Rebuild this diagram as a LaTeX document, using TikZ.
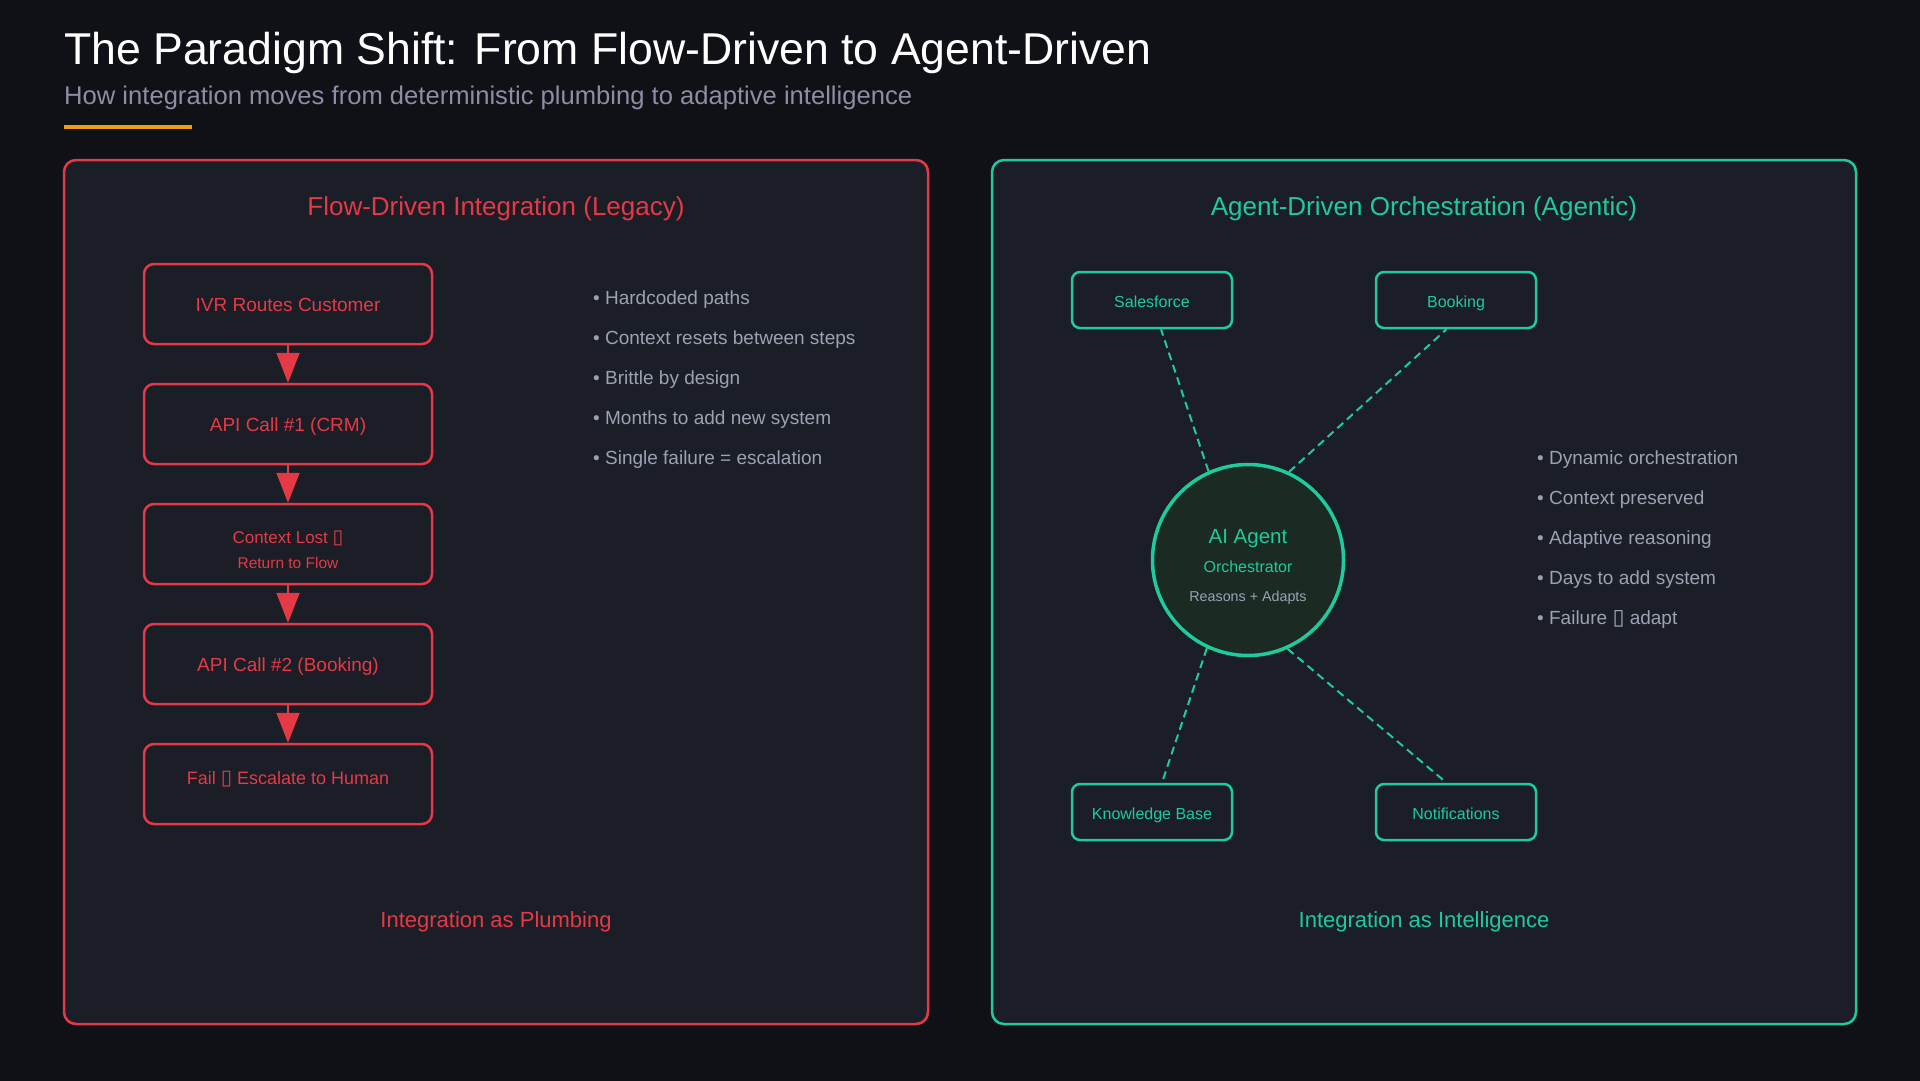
\documentclass[tikz,border=0pt]{standalone}
\usepackage{fontspec}
\setmainfont{Liberation Sans}
\newfontfamily\glyphfont[Scale=1.15]{DejaVu Sans}
\usetikzlibrary{arrows.meta,positioning}

\definecolor{bgdark}{HTML}{0F1117}
\definecolor{panelbg}{HTML}{1B1D27}
\definecolor{flowred}{HTML}{E63946}
\definecolor{agentgreen}{HTML}{1DCB9B}
\definecolor{agentfill}{HTML}{1B2A23}
\definecolor{mutedgray}{HTML}{9DA2B3}
\definecolor{subgray}{HTML}{8A8FA3}
\definecolor{accent}{HTML}{F39C12}

\begin{document}
\begin{tikzpicture}[x=1pt,y=-1pt,>={Triangle[length=30pt,width=23pt,fill=flowred]},node distance=120pt,
    panel/.style={rounded corners=12pt,line width=2.5pt,fill=panelbg},
    panel title/.style={anchor=base,font=\fontsize{26}{31}\selectfont},
    flow frame/.style={rectangle,rounded corners=10pt,draw=flowred,line width=2.5pt,fill=panelbg,minimum width=288pt,minimum height=80pt,inner sep=0pt,text=flowred,align=center},
    flow box/.style={flow frame,font=\fontsize{19}{23}\selectfont,text height=15pt,text depth=0pt},
    flow arrow/.style={->,draw=flowred,fill=flowred,line width=2pt},
    sat box/.style={rectangle,rounded corners=8pt,draw=agentgreen,line width=2.5pt,fill=panelbg,minimum width=160pt,minimum height=56pt,inner sep=0pt,text=agentgreen,font=\fontsize{16}{19}\selectfont,text height=15pt,text depth=0pt},
    spoke/.style={draw=agentgreen,line width=2pt,dash pattern=on 8pt off 5pt},
    agent/.style={circle,draw=agentgreen,line width=3.5pt,fill=agentfill,minimum size=191pt,inner sep=0pt},
    agent label/.style={anchor=base,text=agentgreen},
    bullet item/.style={anchor=base west,inner sep=0pt,text=mutedgray,font=\fontsize{19}{23}\selectfont},
    caption/.style={anchor=base,font=\fontsize{22}{26}\selectfont}]

    % page
    \useasboundingbox (0,0) rectangle (1920,1080);
    \fill[bgdark] (-4,-4) rectangle (1924,1084);

    % heading
    \node[anchor=base west,inner sep=0pt,text=white,font=\fontsize{44.6}{53}\selectfont] (title) at (64,64) {The Paradigm Shift: From Flow-Driven to Agent-Driven};
    \node[anchor=base west,inner sep=0pt,text=subgray,font=\fontsize{25.6}{30}\selectfont] (subtitle) at (64,104) {How integration moves from deterministic plumbing to adaptive intelligence};
    \fill[accent] (64,125) rectangle (192,129);

    % panels
    \draw[panel,draw=flowred] (64,160) rectangle (928,1024);
    \draw[panel,draw=agentgreen] (992,160) rectangle (1856,1024);
    \node[panel title,text=flowred] (flowtitle) at (496,215) {Flow-Driven Integration (Legacy)};
    \node[panel title,text=agentgreen] (agenttitle) at (1424,215) {Agent-Driven Orchestration (Agentic)};

    % flow-driven chain
    \node[flow box] (ivr) at (288,304) {IVR Routes Customer};
    \node[flow box] (crm) [below of = ivr] {API Call \#1 (CRM)};
    \node[flow frame,font=\fontsize{17}{23}\selectfont,text height=49pt] (lost) [below of = crm] {Context Lost {\glyphfont ▯}\\[1.5pt]{\fontsize{15.5}{23}\selectfont Return to Flow}};
    \node[flow box] (booking) [below of = lost] {API Call \#2 (Booking)};
    \node[flow frame,font=\fontsize{18}{22}\selectfont,text height=12.9pt,text depth=12pt] (fail) [below of = booking] {Fail {\glyphfont ▯} Escalate to Human};

    \path[flow arrow]
        (ivr) edge (crm)
        (crm) edge (lost)
        (lost) edge (booking)
        (booking) edge (fail)
    ;

    \foreach \txt [count=\i] in {Hardcoded paths, Context resets between steps, Brittle by design, Months to add new system, Single failure = escalation}
        \node[bullet item] (flowpt\i) at (593,264+40*\i) {• \txt};

    \node[caption,text=flowred] (plumbing) at (496,927) {Integration as Plumbing};

    % agent-driven hub
    \node[agent] (agent) at (1248,560) {};
    \node[agent label,font=\fontsize{20.5}{24}\selectfont] (agentname) at (1248,543) {AI Agent};
    \node[agent label,font=\fontsize{16}{19}\selectfont] (agentrole) at (1248,572) {Orchestrator};
    \node[agent label,text=mutedgray,font=\fontsize{14.3}{17}\selectfont] (agentnote) at (1248,601) {Reasons + Adapts};

    \node[sat box] (sales) at (1152,300) {Salesforce};
    \node[sat box] (book) at (1456,300) {Booking};
    \node[sat box] (kb) at (1152,812) {Knowledge Base};
    \node[sat box] (notify) at (1456,812) {Notifications};

    \draw[spoke] (agent.114.5) -- ([xshift=9pt]sales.south);
    \draw[spoke] (agent.65.5) -- ([xshift=-9.5pt]book.south);
    \draw[spoke] (agent.245.5) -- ([xshift=10pt]kb.north);
    \draw[spoke] (agent.294.5) -- ([xshift=-9.5pt]notify.north);

    \foreach \txt [count=\i] in {Dynamic orchestration, Context preserved, Adaptive reasoning, Days to add system, {Failure {\glyphfont ▯} adapt}}
        \node[bullet item] (agentpt\i) at (1537,424+40*\i) {• \txt};

    \node[caption,text=agentgreen] (intelligence) at (1424,927) {Integration as Intelligence};
\end{tikzpicture}
\end{document}
